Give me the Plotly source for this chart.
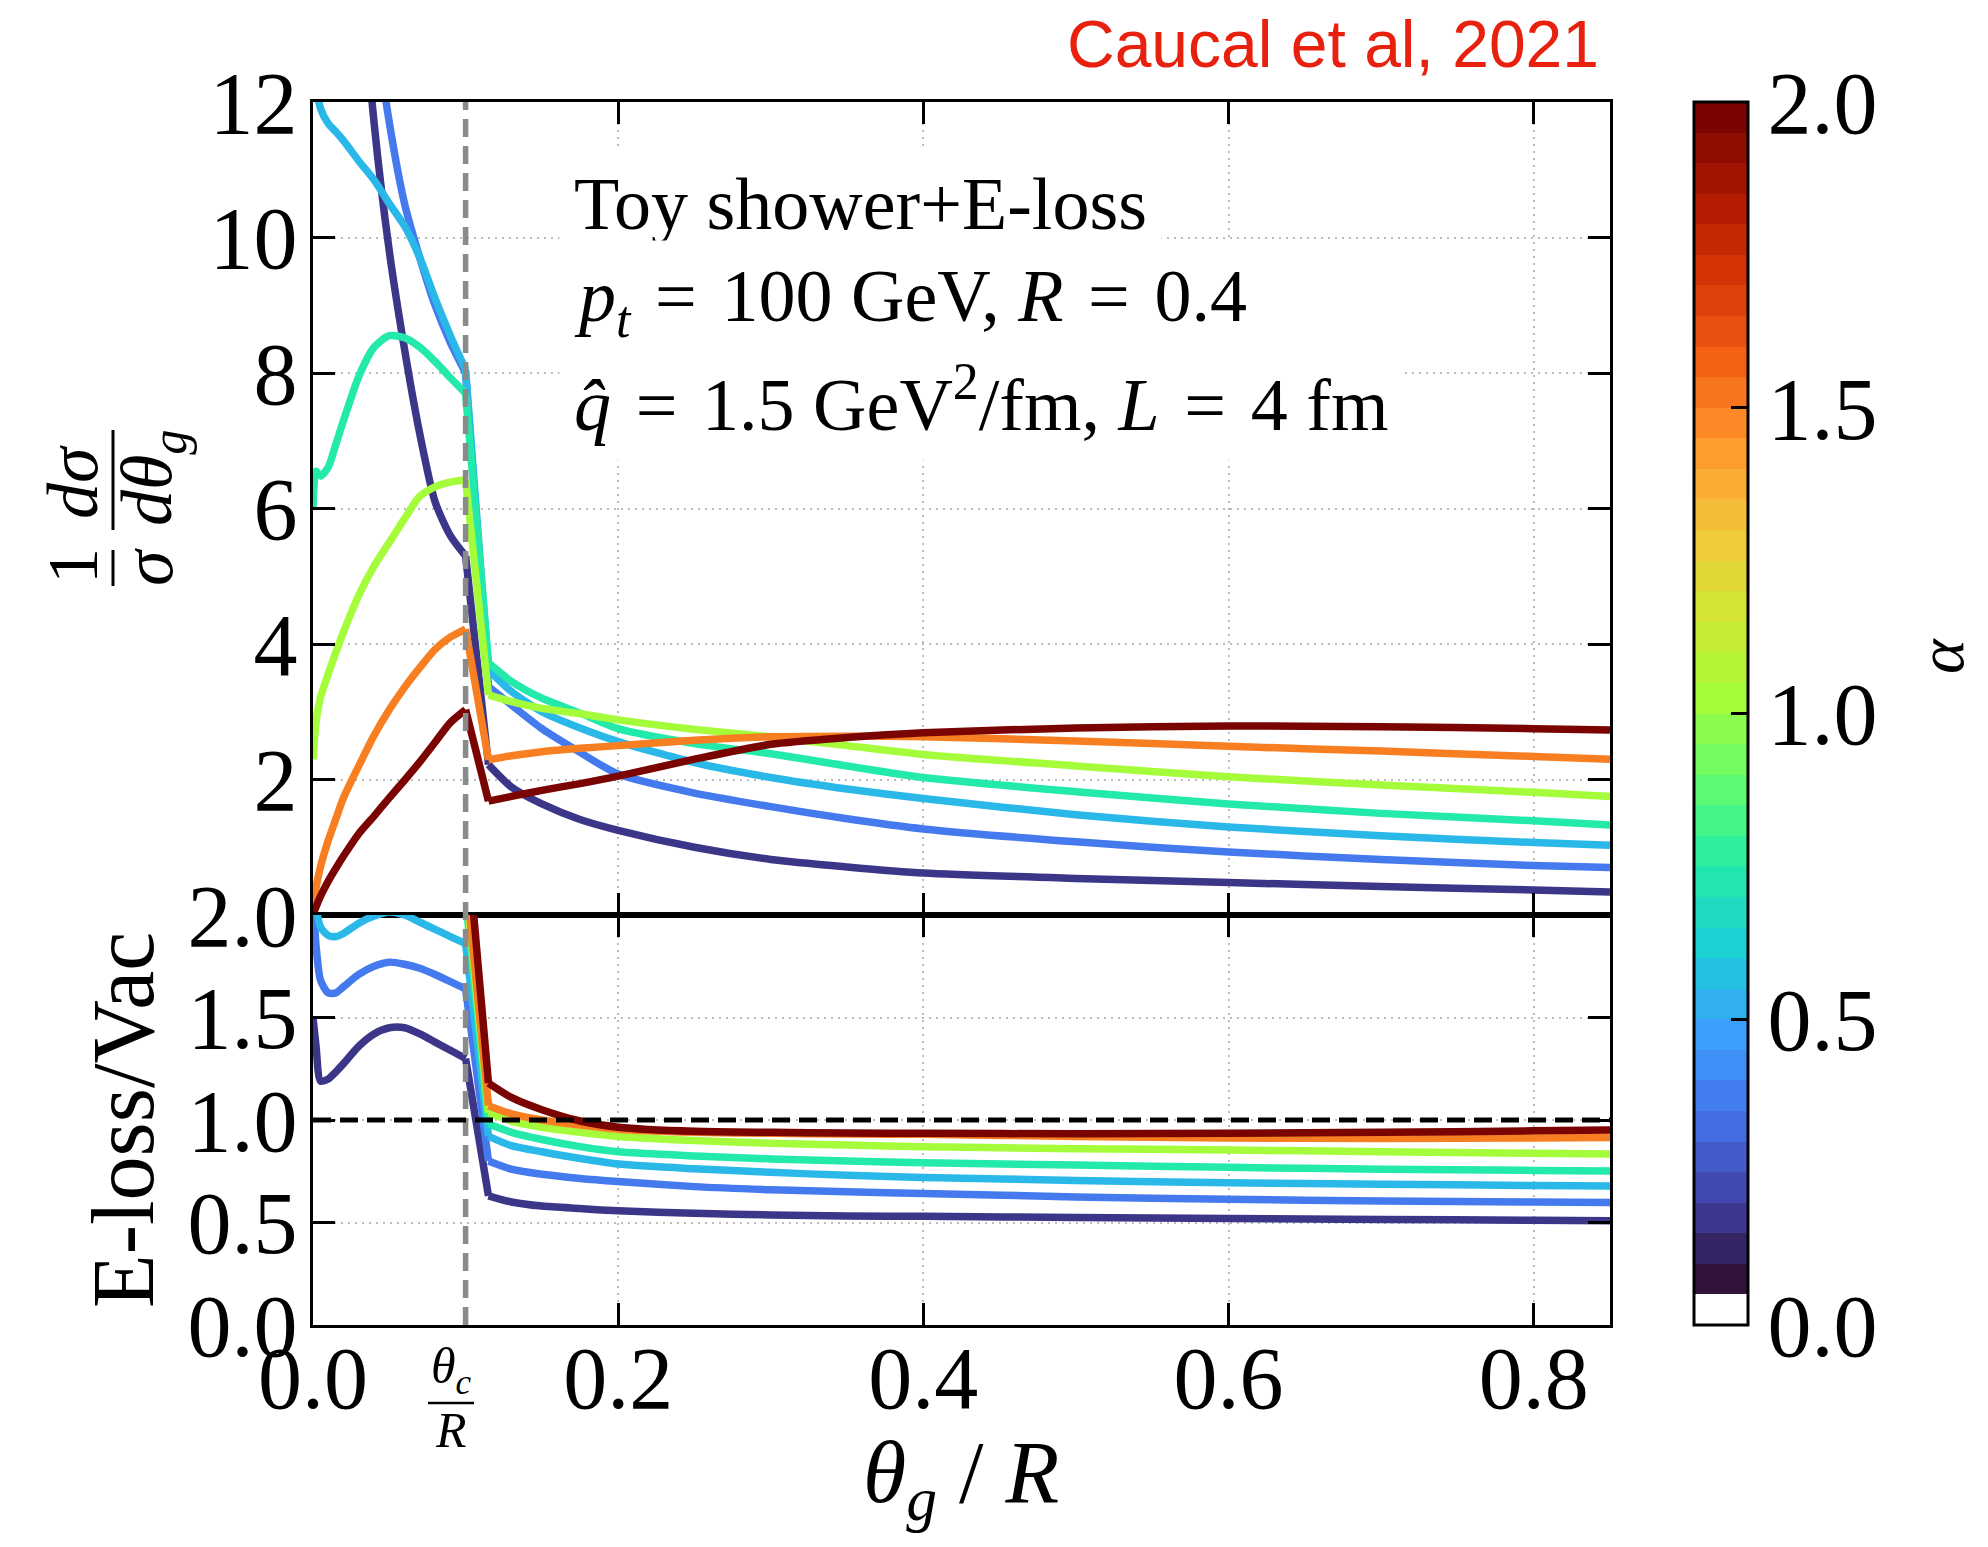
import plotly.graph_objects as go
from plotly.subplots import make_subplots

# ---------------- data ----------------
THETA = [0.0, 0.002, 0.005, 0.01, 0.015, 0.02, 0.03, 0.04, 0.05, 0.06, 0.07, 0.08, 0.09, 0.1,
         0.115, 0.13, 0.15, 0.175, 0.2, 0.25, 0.3, 0.35, 0.4, 0.5, 0.6, 0.7, 0.8, 0.85]

ALPHA_VALUES = [0.1, 0.3, 0.5, 0.7, 1.0, 1.5, 2.0]

# 1/sigma dsigma/dtheta_g  (E-loss), one list per alpha
DIST_A01 = [40, 36, 31, 25, 21, 18, 14.4, 11.7, 9.8, 8.35, 7.1, 6.1, 5.6, 5.3,
            2.22, 1.89, 1.64, 1.41, 1.25, 1.0, 0.82, 0.71, 0.62, 0.54, 0.48, 0.42, 0.37, 0.34]
DIST_A03 = [45, 40, 35, 28, 23, 19.5, 15.5, 13.3, 11.7, 10.5, 9.7, 9.0, 8.45, 8.0,
            3.37, 3.1, 2.75, 2.4, 2.08, 1.8, 1.6, 1.42, 1.27, 1.08, 0.93, 0.82, 0.73, 0.70]
DIST_A05 = [12.7, 12.25, 11.9, 11.68, 11.56, 11.43, 11.13, 10.85, 10.5, 10.17, 9.7, 9.1, 8.55, 8.05,
            3.62, 3.3, 3.0, 2.76, 2.56, 2.25, 2.03, 1.86, 1.72, 1.48, 1.30, 1.17, 1.07, 1.03]
DIST_A07 = [6.0, 6.55, 6.48, 6.61, 6.95, 7.3, 7.95, 8.38, 8.55, 8.52, 8.38, 8.17, 7.93, 7.7,
            3.72, 3.45, 3.2, 2.98, 2.75, 2.53, 2.38, 2.2, 2.03, 1.82, 1.64, 1.5, 1.39, 1.33]
DIST_A10 = [2.3, 2.85, 3.22, 3.56, 3.88, 4.18, 4.72, 5.15, 5.5, 5.85, 6.18, 6.32, 6.39, 6.42,
            3.25, 3.15, 3.05, 2.97, 2.88, 2.74, 2.63, 2.5, 2.37, 2.2, 2.04, 1.92, 1.81, 1.75]
DIST_A15 = [0.0, 0.4, 0.72, 1.1, 1.42, 1.73, 2.2, 2.65, 3.03, 3.36, 3.65, 3.92, 4.1, 4.22,
            2.29, 2.35, 2.41, 2.46, 2.5, 2.58, 2.63, 2.64, 2.63, 2.57, 2.49, 2.42, 2.34, 2.30]
DIST_A20 = [0.0, 0.12, 0.28, 0.5, 0.69, 0.87, 1.2, 1.46, 1.73, 1.99, 2.26, 2.55, 2.84, 3.03,
            1.68, 1.75, 1.84, 1.94, 2.05, 2.3, 2.52, 2.62, 2.69, 2.76, 2.79, 2.78, 2.75, 2.73]

# E-loss / Vac ratio, one list per alpha
RATIO_A01 = [1.50, 1.36, 1.19, 1.2, 1.235, 1.275, 1.36, 1.42, 1.45, 1.45, 1.42, 1.38, 1.34, 1.30,
             0.63, 0.60, 0.58, 0.568, 0.557, 0.545, 0.537, 0.532, 0.53, 0.525, 0.52, 0.515, 0.511, 0.509]
RATIO_A03 = [2.1, 1.85, 1.68, 1.62, 1.62, 1.65, 1.71, 1.75, 1.77, 1.76, 1.74, 1.71, 1.675, 1.64,
             0.80, 0.76, 0.735, 0.715, 0.70, 0.675, 0.66, 0.65, 0.642, 0.625, 0.613, 0.605, 0.6, 0.597]
RATIO_A05 = [2.4, 2.05, 1.94, 1.9, 1.895, 1.91, 1.96, 1.995, 2.015, 2.0, 1.965, 1.93, 1.895, 1.86,
             0.92, 0.875, 0.845, 0.812, 0.785, 0.762, 0.745, 0.73, 0.72, 0.705, 0.694, 0.687, 0.68, 0.678]
RATIO_A07 = [3.0, 2.6, 2.5, 2.45, 2.45, 2.48, 2.55, 2.6, 2.6, 2.55, 2.45, 2.35, 2.22, 2.08,
             0.98, 0.94, 0.905, 0.87, 0.845, 0.825, 0.81, 0.8, 0.792, 0.78, 0.769, 0.76, 0.754, 0.751]
RATIO_A10 = [3.5, 3.2, 3.1, 3.05, 3.05, 3.08, 3.15, 3.2, 3.2, 3.15, 3.05, 2.9, 2.6, 2.15,
             1.035, 0.995, 0.965, 0.94, 0.92, 0.9, 0.887, 0.878, 0.87, 0.86, 0.854, 0.845, 0.838, 0.834]
RATIO_A15 = [4.0, 3.8, 3.7, 3.65, 3.65, 3.65, 3.7, 3.72, 3.7, 3.6, 3.4, 3.1, 2.7, 2.2,
             1.07, 1.03, 1.0, 0.975, 0.955, 0.94, 0.935, 0.932, 0.93, 0.92, 0.912, 0.91, 0.912, 0.915]
RATIO_A20 = [5.0, 4.8, 4.6, 4.5, 4.5, 4.5, 4.5, 4.4, 4.3, 4.1, 3.8, 3.4, 2.9, 2.45,
             1.18, 1.11, 1.05, 0.995, 0.965, 0.945, 0.94, 0.937, 0.935, 0.933, 0.935, 0.94, 0.947, 0.951]

DISTS = [DIST_A01, DIST_A03, DIST_A05, DIST_A07, DIST_A10, DIST_A15, DIST_A20]
RATIOS = [RATIO_A01, RATIO_A03, RATIO_A05, RATIO_A07, RATIO_A10, RATIO_A15, RATIO_A20]

THETA_C_OVER_R = 0.1
X_RANGE = [0.0, 0.85]
X_TICKS = [0.0, 0.2, 0.4, 0.6, 0.8]
TOP_Y_RANGE = [0, 12]
TOP_Y_TICKS = [2, 4, 6, 8, 10, 12]
BOT_Y_RANGE = [0.0, 2.0]
BOT_Y_TICKS = [0.0, 0.5, 1.0, 1.5, 2.0]
ALPHA_MIN, ALPHA_MAX = 0.0, 2.0
CBAR_TICKS = [0.0, 0.5, 1.0, 1.5, 2.0]

# ---------------- styling ----------------
W, H = 1988, 1547
BODY = 8                      # default page margin around the plot div
PL, PR, PT, PB = 313, 1610, 102, 1325   # plot area in screen pixels
SERIF = "Liberation Serif"
SANS = "Liberation Sans"
TICK_FONT = dict(family=SERIF, size=88, color="black")
LW = 7.5

TURBO = ["#30123b", "#4145ab", "#4675ed", "#39a2fc", "#1bcfd4", "#24eca6", "#61fc6c",
         "#a4fc3b", "#d1e834", "#f3c63a", "#fe9b2d", "#f36315", "#d93806", "#b11901", "#7a0402"]


def turbo(t):
    t = min(max(t, 0.0), 1.0)
    n = len(TURBO) - 1
    i = min(int(t * n), n - 1)
    f = t * n - i
    a = [int(TURBO[i][k:k + 2], 16) for k in (1, 3, 5)]
    b = [int(TURBO[i + 1][k:k + 2], 16) for k in (1, 3, 5)]
    c = [round(a[j] + (b[j] - a[j]) * f) for j in range(3)]
    return f"rgb({c[0]},{c[1]},{c[2]})"


def pxp(x, y):
    return (x - PL) / (PR - PL), (PB - y) / (PB - PT)


fig = make_subplots(rows=2, cols=1, shared_xaxes=True, vertical_spacing=0,
                    row_heights=[(915 - PT) / (PB - PT), (PB - 915) / (PB - PT)])

# smooth pieces on either side of the theta_c jump, straight segment across it
i_c = THETA.index(THETA_C_OVER_R)
PIECES = [(0, i_c + 1, "spline"), (i_c, i_c + 2, "linear"), (i_c + 1, len(THETA), "spline")]

for a, d, r in zip(ALPHA_VALUES, DISTS, RATIOS):
    col = turbo((a - ALPHA_MIN) / (ALPHA_MAX - ALPHA_MIN))
    for row, ys in ((1, d), (2, r)):
        for s, e, shape in PIECES:
            fig.add_trace(go.Scatter(x=THETA[s:e], y=ys[s:e], mode="lines",
                                     line=dict(color=col, width=LW, shape=shape, smoothing=0.7),
                                     showlegend=False, hoverinfo="skip"), row=row, col=1)

# banded colour scale with a white first band
NB = 40
cscale = []
for k in range(NB):
    c = "rgb(255,255,255)" if k == 0 else turbo((k - 1) / (NB - 2))
    cscale.append([k / NB, c])
    cscale.append([(k + 1) / NB, c])

fig.add_trace(go.Scatter(
    x=[-1, -1], y=[-1, -1], mode="markers", showlegend=False, hoverinfo="skip",
    marker=dict(size=1, opacity=0, color=[ALPHA_MIN, ALPHA_MAX], cmin=ALPHA_MIN, cmax=ALPHA_MAX,
                colorscale=cscale, showscale=True,
                colorbar=dict(thickness=54, thicknessmode="pixels", len=1, lenmode="fraction",
                              x=pxp(1694, 0)[0], xanchor="left", y=0.5, yanchor="middle",
                              xpad=0, ypad=0, outlinewidth=3, outlinecolor="black",
                              tickvals=CBAR_TICKS, ticktext=[f"{v:.1f}" for v in CBAR_TICKS],
                              ticks="inside", ticklen=18, tickwidth=3, tickcolor="black",
                              tickfont=TICK_FONT)),
), row=1, col=1)

axis_common = dict(showline=True, linecolor="black", linewidth=3, mirror="ticks",
                   ticks="inside", ticklen=22, tickwidth=3, tickcolor="black",
                   showgrid=True, gridcolor="#bcbcbc", gridwidth=2, griddash="2px,5px",
                   zeroline=False, tickfont=TICK_FONT)

fig.update_xaxes(range=X_RANGE, tickvals=X_TICKS, ticktext=[f"{v:.1f}" for v in X_TICKS],
                 **axis_common)
fig.update_xaxes(showticklabels=False, row=1, col=1)
fig.update_xaxes(showticklabels=True, ticklabelstandoff=-26, row=2, col=1)
fig.update_yaxes(range=TOP_Y_RANGE, tickvals=TOP_Y_TICKS, ticklabelstandoff=-5,
                 row=1, col=1, **axis_common)
fig.update_yaxes(range=BOT_Y_RANGE, tickvals=BOT_Y_TICKS, ticklabelstandoff=-5,
                 ticktext=[f"{v:.1f}" for v in BOT_Y_TICKS], row=2, col=1, **axis_common)

shapes = [
    dict(type="line", xref="x", yref="paper", x0=THETA_C_OVER_R, x1=THETA_C_OVER_R, y0=0, y1=1,
         line=dict(color="#8a8a8a", width=5.5, dash="18px,9px"), layer="above"),
    dict(type="line", xref="x2 domain", yref="y2", x0=0, x1=1, y0=1, y1=1,
         line=dict(color="black", width=5, dash="18px,9px"), layer="above"),
]


def bar(x0, y0, x1, y1, w=3):
    p0, p1 = pxp(x0, y0), pxp(x1, y1)
    shapes.append(dict(type="line", xref="paper", yref="paper", x0=p0[0], y0=p0[1],
                       x1=p1[0], y1=p1[1], line=dict(color="black", width=w)))


annotations = []


def text(x, y, s, size, family=SERIF, color="black", xanchor="center", angle=0, **kw):
    px_, py_ = pxp(x, y)
    annotations.append(dict(x=px_, y=py_, xref="paper", yref="paper", text=s, showarrow=False,
                            xanchor=xanchor, yanchor="middle", textangle=angle,
                            font=dict(family=family, size=size, color=color), **kw))


SP = "\u2004"  # slightly wider space around '=' as in math typesetting

# source credit
text(1601, 44, "Caucal et al, 2021", 66, family=SANS, color="#e8210f", xanchor="right")

# in-plot legend text (white boxes hide the grid)
PAD = 14
text(573 - PAD, 204, "Toy shower+E-loss", 74, xanchor="left", bgcolor="white", borderpad=PAD)
text(573 - PAD, 301, f"<i>p<sub>t</sub></i>{SP}={SP}100 GeV, <i>R</i>{SP}={SP}0.4", 74,
     xanchor="left", bgcolor="white", borderpad=PAD)
text(573 - PAD, 399, f"<i>q̂</i>{SP}={SP}1.5 GeV<sup>2</sup>/fm, <i>L</i>{SP}={SP}4 fm", 74,
     xanchor="left", bgcolor="white", borderpad=PAD)

# top y-axis title: (1/sigma)(dsigma/dtheta_g) built as two stacked fractions
text(73, 566, "1", 72, angle=-90)
text(148, 567, "<i>σ</i>", 72, angle=-90)
bar(113, 550, 113, 586)
text(73, 482, "<i>dσ</i>", 72, angle=-90)
text(152, 478, "<i>dθ<sub>g</sub></i>", 72, angle=-90)
bar(113, 430, 113, 530)

# bottom y-axis title
text(123, 1120, "E-loss/Vac", 88, angle=-90)

# x-axis title
text(961, 1478, "<i>θ<sub>g</sub></i> / <i>R</i>", 88)

# theta_c / R label under the dashed line
text(451, 1370, "<i>θ<sub>c</sub></i>", 50)
bar(428, 1403, 474, 1403, w=2.5)
text(451, 1430, "<i>R</i>", 50)

# colour bar title
text(1940, 656, "<i>α</i>", 66, angle=-90)

fig.update_layout(width=W - 2 * BODY, height=H - 2 * BODY,
                  margin=dict(l=PL - BODY, r=W - BODY - PR, t=PT - BODY, b=H - BODY - PB, pad=0),
                  plot_bgcolor="white", paper_bgcolor="white", showlegend=False,
                  shapes=shapes, annotations=annotations)

fig.write_html("out.html")
